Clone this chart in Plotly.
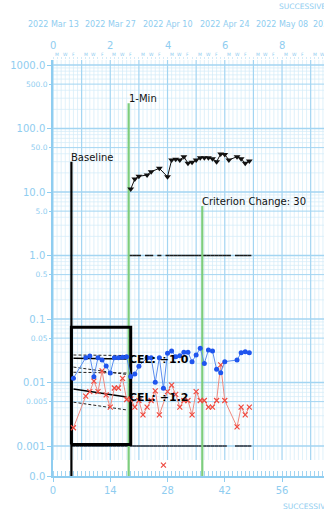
import datetime as dt
import math
import plotly.graph_objects as go

# ---------------- data ----------------
START_DATE = dt.date(2022, 3, 13)

# 1-minute timing: count per minute
rate_days = [19, 20, 21, 23, 24, 26, 28, 29, 30, 31, 32, 33, 34, 35, 36, 37, 38,
             39, 40, 41, 42, 43, 45, 46, 47, 48]
rate_values = [11.1, 16.0, 17.7, 18.5, 20.9, 23.6, 17.4, 31.9, 32.7, 31.9, 36.0,
               28.3, 29.4, 31.9, 34.7, 34.7, 34.7, 33.5, 30.0, 39.7, 39.0, 31.9,
               36.0, 33.5, 28.3, 30.8]

# corrects (blue dots)
corrects_days = [5, 8, 9, 10, 11, 12, 13, 14, 15, 16, 17, 18,
                 19, 20, 21, 23, 24, 25, 26, 27, 28, 29, 30, 31, 32, 33, 34, 35,
                 36, 37, 38, 39, 40, 41, 42, 45, 46, 47, 48]
corrects_values = [0.0117, 0.0246, 0.0261, 0.0123, 0.0246, 0.0226, 0.0182, 0.0141,
                   0.0246, 0.0246, 0.0250, 0.0255,
                   0.0124, 0.0136, 0.0180, 0.0246, 0.0246, 0.0101, 0.0246, 0.0081,
                   0.0288, 0.0313, 0.0255, 0.0264, 0.0299, 0.0299, 0.0213, 0.0271,
                   0.0345, 0.0200, 0.0325, 0.0313, 0.0161, 0.0143, 0.0213, 0.0226,
                   0.0294, 0.0305, 0.0294]

# errors (red crosses)
errors_days = [5, 8, 9, 10, 11, 12, 13, 14, 15, 16, 17, 18,
               19, 20, 21, 22, 23, 24, 25, 26, 28, 29, 30, 31, 32, 33, 34, 35,
               36, 37, 38, 39, 40, 41, 42, 45, 46, 47, 48]
errors_values = [0.00194, 0.0061, 0.0072, 0.0105, 0.0072, 0.0152, 0.0064, 0.0041,
                 0.0082, 0.0082, 0.0116, 0.0054,
                 0.0055, 0.0041, 0.0052, 0.0031, 0.0041, 0.0052, 0.0074, 0.0031,
                 0.0072, 0.0091, 0.0065, 0.0041, 0.0052, 0.0052, 0.0031, 0.0072,
                 0.0052, 0.0052, 0.0041, 0.0041, 0.0052, 0.0189, 0.0052, 0.0020,
                 0.0041, 0.0031, 0.0041]
errors_zero_days = [27]
ZERO_MARK_LEVEL = 0.0005

# counting floors
rate_floor = 1.0
count_floor = 0.001
count_floor_days = list(range(5, 19)) + list(range(19, 43)) + [45, 46, 47, 48]

# phase change lines
phase_labels = ["Baseline", "1-Min", "Criterion Change: 30"]
phase_days = [4.5, 18.5, 36.5]
phase_tops = [30.0, 250.0, 6.0]
phase_colors = ["#000000", "#7dcd7d", "#7dcd7d"]

# baseline celeration fits
cel_days = [5, 18]
corrects_cel = [0.0242, 0.0234]
corrects_bounce_up = [0.0271, 0.0266]
corrects_bounce_low = [0.0145, 0.0141]
errors_cel = [0.0079, 0.0059]
errors_bounce_up = [0.0175, 0.0134]
errors_bounce_low = [0.0049, 0.0037]
cel_labels = ["CEL: \u00f71.0", "CEL: \u00f71.2"]

# baseline summary box
box_days = [4.5, 19.0]
box_values = [0.00106, 0.074]

# axis ticks
y_major_vals = [0.001, 0.01, 0.1, 1, 10, 100, 1000]
y_major_text = ["0.001", "0.01", "0.1", "1.0", "10.0", "100.0", "1000.0"]
y_half_vals = [0.005, 0.05, 0.5, 5, 50, 500]
y_half_text = ["0.005", "0.05", "0.5", "5.0", "50.0", "500.0"]
x_tick_days = [0, 14, 28, 42, 56]

# ---------------- geometry ----------------
W, H = 324, 513
PLOT_L, PLOT_T, PLOT_B = 53, 60, 476
PX_PER_DAY = 4.09
PX_PER_DECADE = 63.5
XMAX = (W - PLOT_L) / PX_PER_DAY
Y_LOG_TOP = 3 + (65 - PLOT_T) / PX_PER_DECADE
Y_LOG_BOTTOM = Y_LOG_TOP - (PLOT_B - PLOT_T) / PX_PER_DECADE
ZERO_ROW = 10 ** Y_LOG_BOTTOM
GRID_BOTTOM = 10 ** (Y_LOG_BOTTOM + 16 / PX_PER_DECADE)

AX = "#8fcdf0"
GRID_MAJOR = "#a3d5f2"
GRID_MINOR = "#d3ebf8"
FONT = "DejaVu Sans"


def paper_y(py):
    return (PLOT_B - py) / (PLOT_B - PLOT_T)


def paper_x(day):
    return day / XMAX


fig = go.Figure()


def add_lines(xs, ys, color, width, dash=None):
    fig.add_trace(go.Scatter(x=xs, y=ys, mode="lines", hoverinfo="skip",
                             line=dict(color=color, width=width, dash=dash)))


# ---- chart paper grid ----
def grid_group(values, kind):
    xs, ys = [], []
    for v in values:
        if kind == "h":
            xs += [0, XMAX, None]
            ys += [v, v, None]
        else:
            xs += [v, v, None]
            ys += [GRID_BOTTOM, 10 ** Y_LOG_TOP, None]
    return xs, ys


h_minor, h_half, h_major = [], [], []
for e in range(-3, 3):
    for k in range(1, 10):
        v = k * 10 ** e
        (h_major if k == 1 else h_half if k == 5 else h_minor).append(v)
h_major.append(1000)
days_all = list(range(0, int(XMAX) + 1))
v_minor = [d for d in days_all if d % 7]
v_major = [d for d in days_all if d % 7 == 0]

add_lines(*grid_group(v_minor, "v"), GRID_MINOR, 0.7)
add_lines(*grid_group(h_minor, "h"), GRID_MINOR, 0.7)
add_lines(*grid_group(h_half, "h"), GRID_MAJOR, 1.0)
add_lines(*grid_group(v_major, "v"), GRID_MAJOR, 1.2)
add_lines(*grid_group(h_major, "h"), GRID_MAJOR, 1.4)


# ---- floors ----
def floor_segments(days, level):
    xs, ys = [], []
    for d in days:
        xs += [d - 0.5, d + 0.5, None]
        ys += [level, level, None]
    return xs, ys


add_lines(*floor_segments(count_floor_days, count_floor), "#4f5a66", 2)
add_lines(*floor_segments(rate_days, rate_floor), "#1a1a1a", 1.5)

# ---- phase lines ----
for lab, d, top, col in zip(phase_labels, phase_days, phase_tops, phase_colors):
    add_lines([d, d], [ZERO_ROW, top], col, 2.2)
    fig.add_annotation(x=d, y=math.log10(top), text=lab, showarrow=False,
                       xanchor="left", yanchor="bottom", xshift=-2, yshift=-3,
                       font=dict(family=FONT, size=10, color="#111111"))

# ---- baseline box ----
add_lines([box_days[0], box_days[1], box_days[1], box_days[0], box_days[0]],
          [box_values[0], box_values[0], box_values[1], box_values[1], box_values[0]],
          "#000000", 3)

# ---- celeration and bounce lines ----
for up, cel, low in [(corrects_bounce_up, corrects_cel, corrects_bounce_low),
                     (errors_bounce_up, errors_cel, errors_bounce_low)]:
    add_lines(cel_days, up, "#222222", 1, dash="3px,2px")
    add_lines(cel_days, low, "#222222", 1, dash="3px,2px")
    add_lines(cel_days, cel, "#000000", 1.5)

# ---- data series ----
fig.add_trace(go.Scatter(
    x=errors_days, y=errors_values, mode="lines+markers", hoverinfo="skip",
    line=dict(color="#f08a80", width=1),
    marker=dict(symbol="x-thin", size=5, line=dict(color="#ee4a40", width=1.2))))
fig.add_trace(go.Scatter(
    x=errors_zero_days, y=[ZERO_MARK_LEVEL] * len(errors_zero_days), mode="markers",
    hoverinfo="skip",
    marker=dict(symbol="x-thin", size=5, line=dict(color="#ee4a40", width=1.2))))
fig.add_trace(go.Scatter(
    x=corrects_days, y=corrects_values, mode="lines+markers", hoverinfo="skip",
    line=dict(color="#5a8ef0", width=1),
    marker=dict(symbol="circle", size=5, color="#1f55ee")))
fig.add_trace(go.Scatter(
    x=rate_days, y=rate_values, mode="lines+markers", hoverinfo="skip",
    line=dict(color="#111111", width=1),
    marker=dict(symbol="triangle-down", size=6, color="#111111")))

for lab, cel in zip(cel_labels, [corrects_cel, errors_cel]):
    fig.add_annotation(x=cel_days[1], y=math.log10(cel[1]), text="<b>" + lab + "</b>",
                       showarrow=False, xanchor="left", yanchor="middle", xshift=0,
                       font=dict(family=FONT, size=11, color="#000000"))

# helper traces so the extra axes are drawn
fig.add_trace(go.Scatter(x=[None], y=[None], yaxis="y2", hoverinfo="skip"))
fig.add_trace(go.Scatter(x=[None], y=[None], xaxis="x2", hoverinfo="skip"))

# ---- top header text ----
for d in range(0, 71, 14):
    date = START_DATE + dt.timedelta(days=d)
    fig.add_annotation(xref="paper", yref="paper", x=paper_x(d), y=paper_y(25),
                       text=date.strftime("%Y %b %d"), showarrow=False,
                       xanchor="center", yanchor="middle",
                       font=dict(family=FONT, size=8, color=AX))
    if d <= XMAX:
        fig.add_annotation(xref="paper", yref="paper", x=paper_x(d), y=paper_y(45),
                           text=str(d // 7), showarrow=False,
                           xanchor="center", yanchor="middle",
                           font=dict(family=FONT, size=10, color=AX))
for w in range(10):
    for off, letter in zip([1, 3, 5], ["M", "W", "F"]):
        d = 7 * w + off
        if d > XMAX:
            continue
        fig.add_annotation(xref="paper", yref="paper", x=paper_x(d), y=paper_y(54.5),
                           text=letter, showarrow=False, xanchor="center",
                           yanchor="middle",
                           font=dict(family=FONT, size=4.5, color=AX))
fig.add_annotation(xref="paper", yref="paper", x=paper_x(70), y=paper_y(6),
                   text="SUCCESSIVE CALENDAR WEEKS", showarrow=False,
                   xanchor="center", yanchor="middle",
                   font=dict(family=FONT, size=7.5, color=AX))
fig.add_annotation(xref="paper", yref="paper", x=paper_x(70), y=paper_y(506),
                   text="SUCCESSIVE CALENDAR DAYS", showarrow=False,
                   xanchor="center", yanchor="middle",
                   font=dict(family=FONT, size=7.5, color=AX))

fig.update_layout(
    width=W, height=H, margin=dict(l=PLOT_L, r=0, t=PLOT_T, b=H - PLOT_B),
    paper_bgcolor="white", plot_bgcolor="white", showlegend=False,
    xaxis=dict(range=[0, XMAX], tickvals=x_tick_days, ticks="outside", ticklen=4,
               tickcolor=AX, tickwidth=1, showline=True, linecolor=AX, linewidth=1.5,
               showgrid=False, zeroline=False,
               tickfont=dict(family=FONT, size=10, color=AX),
               minor=dict(ticks="inside", ticklen=5, dtick=1, tick0=0,
                          tickcolor=GRID_MAJOR, tickwidth=0.7, showgrid=False)),
    xaxis2=dict(range=[0, XMAX], overlaying="x", side="top", anchor="y",
                showticklabels=False, ticks="outside", ticklen=2, dtick=1, tick0=0,
                tickcolor=GRID_MINOR, showgrid=False, zeroline=False, showline=False),
    yaxis=dict(type="log", range=[Y_LOG_BOTTOM, Y_LOG_TOP],
               tickvals=[ZERO_ROW] + y_major_vals, ticktext=["0.0"] + y_major_text,
               ticks="outside", ticklen=4, tickcolor=AX, showline=True, linecolor=AX,
               linewidth=1.5, showgrid=False, zeroline=False,
               tickfont=dict(family=FONT, size=10, color=AX)),
    yaxis2=dict(type="log", range=[Y_LOG_BOTTOM, Y_LOG_TOP], overlaying="y",
                side="left", anchor="x", tickvals=y_half_vals, ticktext=y_half_text,
                ticks="outside", ticklen=3, tickcolor=AX, showgrid=False,
                zeroline=False, showline=False,
                tickfont=dict(family=FONT, size=7.5, color=AX)),
)

fig.write_html("out.html")
